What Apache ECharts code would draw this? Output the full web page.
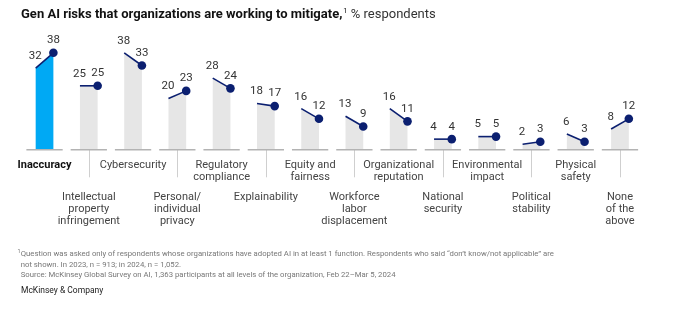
<!DOCTYPE html>
<html>
<head>
<meta charset="utf-8">
<script src="https://cdn.jsdelivr.net/npm/echarts@6/dist/echarts.min.js"></script>
<style>
html,body{margin:0;padding:0;background:#fff;}
#chart{width:679px;height:328px;}
</style>
</head>
<body>
<div id="chart"></div>
<script>
const categories = ['Inaccuracy','Intellectual\nproperty\ninfringement','Cybersecurity','Personal/\nindividual\nprivacy','Regulatory\ncompliance','Explainability','Equity and\nfairness','Workforce\nlabor\ndisplacement','Organizational\nreputation','National\nsecurity','Environmental\nimpact','Political\nstability','Physical\nsafety','None\nof the\nabove'];
const values2023 = [32,25,38,20,28,18,16,13,16,4,5,2,6,8];
const values2024 = [38,25,33,23,24,17,12,9,11,4,5,3,3,12];

const FONT = 'Roboto';
const NAVY = '#0b1f70';
const chart = echarts.init(document.getElementById('chart'), null, {renderer:'canvas'});

const data = categories.map((c, i) => [i, values2023[i], values2024[i]]);

function renderItem(params, api) {
  const i = api.value(0);
  const a = api.value(1), b = api.value(2);
  const base = api.coord([i, 0]);
  const band = api.size([1, 0])[0];
  const bw = band * 0.4;
  const xl = base[0] - bw / 2, xr = base[0] + bw / 2;
  const yl = api.coord([i, a])[1], yr = api.coord([i, b])[1];
  const fill = i === 0 ? '#00a9f4' : '#e6e6e6';
  const half = band * 0.41;
  return {
    type: 'group',
    children: [
      {type:'polygon', shape:{points:[[xl, base[1]],[xl, yl],[xr, yr],[xr, base[1]]]}, style:{fill: fill}},
      {type:'line', shape:{x1: base[0]-half, y1: base[1]+0.5, x2: base[0]+half, y2: base[1]+0.5}, style:{stroke:'#b3b3b3', lineWidth:1.5}},
      {type:'line', shape:{x1: xl, y1: yl, x2: xr, y2: yr}, style:{stroke: NAVY, lineWidth:1.6}},
      {type:'circle', shape:{cx: xr, cy: yr, r: 4.3}, style:{fill: NAVY}},
      {type:'text', x: xl - 0.5, y: yl - 12, style:{text: String(a), fill:'#333', fontSize: 11.5, fontFamily: FONT, align:'center', verticalAlign:'middle'}},
      {type:'text', x: xr, y: yr - 12.5, style:{text: String(b), fill:'#333', fontSize: 11.5, fontFamily: FONT, align:'center', verticalAlign:'middle'}}
    ]
  };
}

const labelRich = {
  bold: {fontWeight:'bold', color:'#111', fontSize:11, fontFamily:FONT, lineHeight:12},
  n: {color:'#444', fontSize:11, fontFamily:FONT, lineHeight:12}
};

const option = {
  animation: false,
  grid: {left: 22.4, right: 36.9, top: 47.7, bottom: 178.7},
  xAxis: [
    {
      type:'category', data: categories, boundaryGap: true,
      axisLine:{show:false},
      axisTick:{show:true, alignWithLabel:true, length:28, interval:(i)=> i % 2 === 1, lineStyle:{color:'#cfcfcf', width:1}},
      axisLabel:{interval:(i)=> i % 2 === 0, margin:10, color:'#444', fontSize:11, fontFamily:FONT, lineHeight:12,
        formatter:(v, i)=> i === 0 ? '{bold|' + v + '}' : v.split('\n').map(s=>'{n|'+s+'}').join('\n'), rich: labelRich}
    },
    {
      type:'category', data: categories, boundaryGap: true, position:'bottom',
      axisLine:{show:false}, axisTick:{show:false},
      axisLabel:{interval:(i)=> i % 2 === 1, margin:42, color:'#444', fontSize:11, fontFamily:FONT, lineHeight:12}
    }
  ],
  yAxis: {type:'value', min:0, max:40, show:false},
  series: [{
    type:'custom', xAxisIndex:0, yAxisIndex:0, renderItem: renderItem, data: data,
    encode:{x:0, y:[1,2]}
  }],
  graphic: [
    {type:'text', left:21, top:7, style:{
      rich:{
        b:{fontWeight:'bold', fontSize:13, fontFamily:FONT, fill:'#111', lineHeight:16},
        s:{fontSize:7.5, fontFamily:FONT, fill:'#111', verticalAlign:'top', lineHeight:16, padding:[0,0,6,1]},
        n:{fontSize:13, fontFamily:FONT, fill:'#333', lineHeight:16}
      },
      text:'{b|Gen AI risks that organizations are working to mitigate,}{s|1}{n| % respondents}'
    }},
    {type:'text', left:17.5, top:248.5, style:{text:'1', fontSize:5.5, fontFamily:FONT, fill:'#777'}},
    {type:'text', left:20.7, top:249, style:{
      text:'Question was asked only of respondents whose organizations have adopted AI in at least 1 function. Respondents who said \u201cdon\u2019t know/not applicable\u201d are\nnot shown. In 2023, n = 913; in 2024, n = 1,052.\nSource: McKinsey Global Survey on AI, 1,363 participants at all levels of the organization, Feb 22\u2013Mar 5, 2024',
      fontSize:7.75, fontFamily:FONT, fill:'#777', lineHeight:10.5
    }},
    {type:'text', left:21, top:286, style:{text:'McKinsey & Company', fontSize:8.5, fontFamily:FONT, fill:'#222'}}
  ]
};
chart.setOption(option);
</script>
</body>
</html>
